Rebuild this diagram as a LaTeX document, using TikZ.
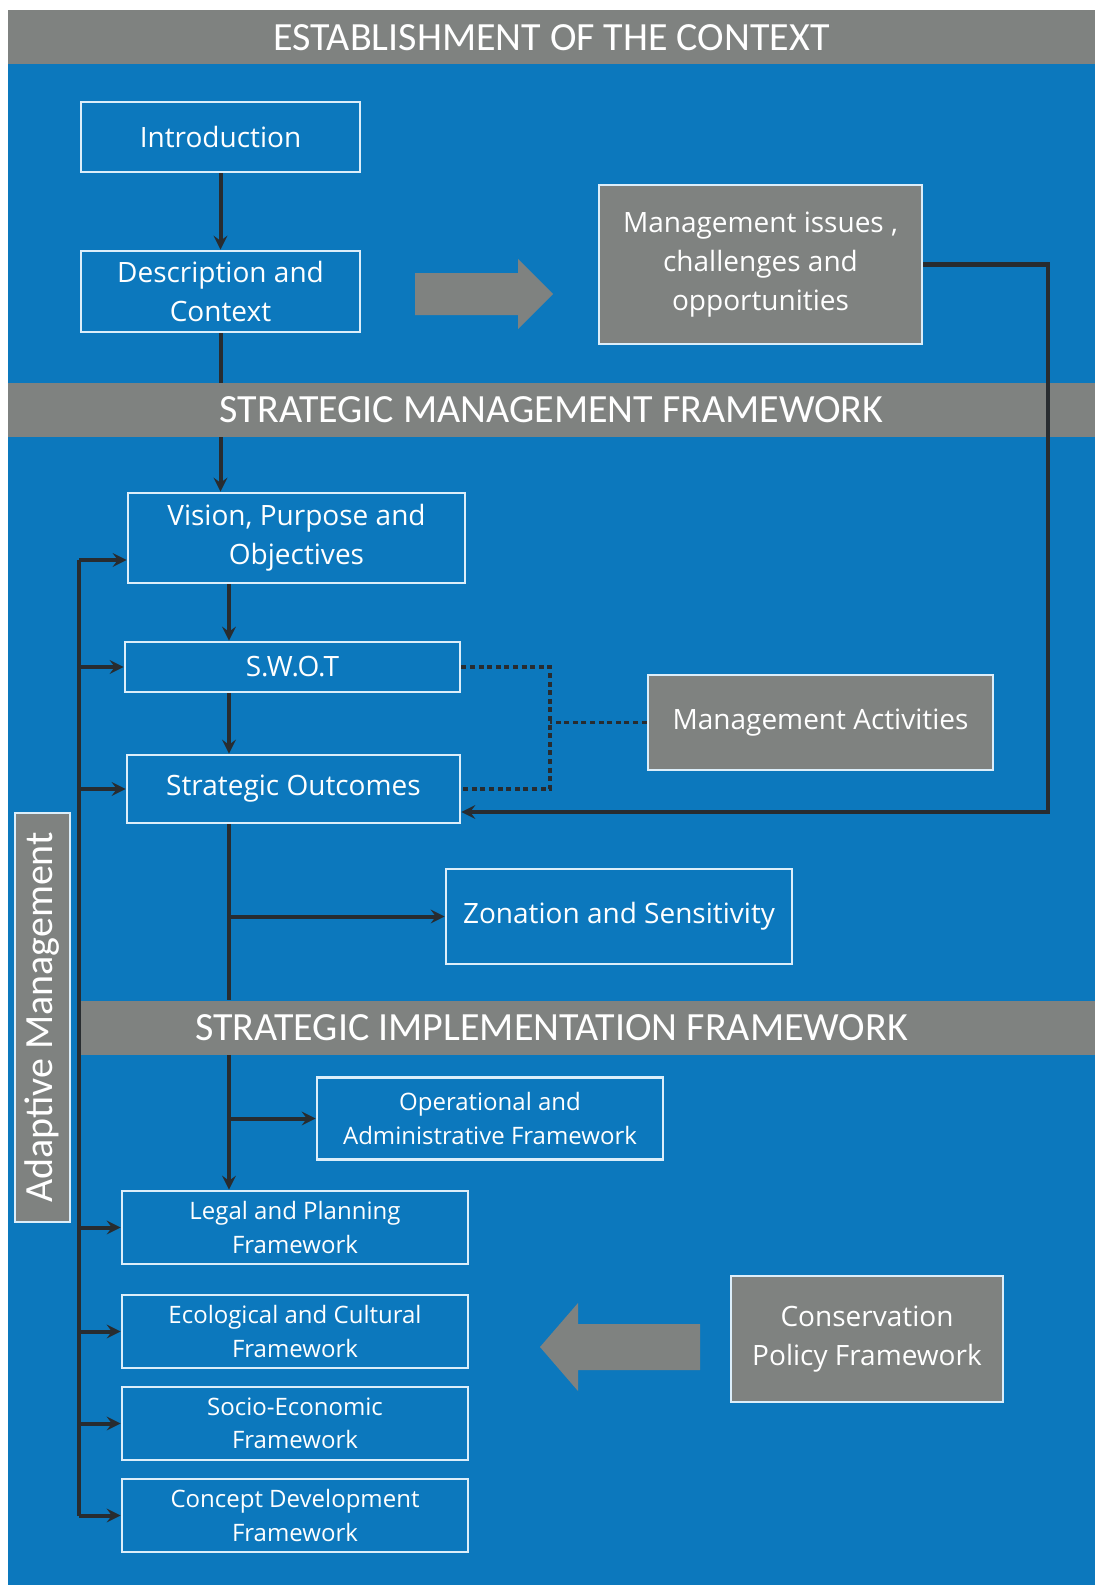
\documentclass[tikz,border=0pt]{standalone}
\usepackage{fontspec}
\setmainfont{Open Sans}
\newfontfamily\headfont{Carlito}
\usepackage{xcolor}
\usepackage{tikz}
\usetikzlibrary{shapes.geometric, arrows}
\definecolor{planblue}{RGB}{12,120,189}
\definecolor{bandgray}{RGB}{127,130,128}
\definecolor{edgewhite}{RGB}{220,238,250}
\definecolor{linedark}{RGB}{40,44,48}
\tikzstyle{band} = [rectangle, fill=bandgray, text=white, font=\headfont\fontsize{20}{24}\selectfont, minimum width=543.5pt, minimum height=27pt, inner sep=0pt]
\tikzstyle{stage} = [rectangle, draw=edgewhite, line width=1.4pt, fill=planblue, text=white, align=center, inner sep=0pt, font=\fontsize{14}{19.3}\selectfont]
\tikzstyle{smallstage} = [stage, font=\fontsize{12}{16.7}\selectfont]
\tikzstyle{greystage} = [stage, fill=bandgray]
\tikzstyle{link} = [line width=2pt, draw=linedark]
\tikzstyle{arrow} = [link, ->, >=stealth]
\tikzstyle{dotlink} = [line width=1.6pt, draw=linedark, dash pattern=on 2.5pt off 1.8pt]

\begin{document}
\begin{tikzpicture}[x=0.5pt, y=-0.5pt]
		
		\useasboundingbox (0,0) rectangle (1095,1589);
		\fill[white] (0,0) rectangle (1095,1589);
		\fill[planblue] (8,10) rectangle (1095,1585);
		
		\node (context) [band] at (551.5,37.5) {ESTABLISHMENT OF THE CONTEXT};
		\node (managefw) [band] at (551.5,410) {STRATEGIC MANAGEMENT FRAMEWORK};
		\node (implementfw) [band] at (551.5,1027.5) {STRATEGIC IMPLEMENTATION FRAMEWORK};
		\fill[planblue] (8,1001) rectangle (78,1055);
		
		\node (intro) [stage, minimum width=139.5pt, minimum height=35pt] at (220.5,137) {Introduction};
		\node (desc) [stage, minimum width=139.5pt, minimum height=40.5pt] at (220.5,291.5) {Description and\\Context};
		\node (issues) [greystage, minimum width=161.5pt, minimum height=79.5pt] at (760.5,264.5) {Management issues ,\\challenges and\\opportunities};
		\node (vision) [stage, minimum width=168.5pt, minimum height=45pt] at (296.5,538) {Vision, Purpose and\\Objectives};
		\node (swot) [stage, minimum width=167.5pt, minimum height=25pt] at (292.5,667) {S.W.O.T};
		\node (outcomes) [stage, minimum width=166.5pt, minimum height=34pt] at (293.5,789) {Strategic Outcomes};
		\node (activities) [greystage, minimum width=172.5pt, minimum height=47.5pt] at (820.5,722.5) {Management Activities};
		\node (zonation) [stage, minimum width=173pt, minimum height=47.5pt] at (619,916.5) {Zonation and Sensitivity};
		\node (oper) [smallstage, minimum width=173pt, minimum height=41pt] at (490,1118.5) {Operational and\\Administrative Framework};
		\node (legal) [smallstage, minimum width=173pt, minimum height=36.5pt] at (295,1227.5) {Legal and Planning\\Framework};
		\node (eco) [smallstage, minimum width=173pt, minimum height=36.5pt] at (295,1331.5) {Ecological and Cultural\\Framework};
		\node (socio) [smallstage, minimum width=173pt, minimum height=36.5pt] at (295,1423.5) {Socio-Economic\\Framework};
		\node (concept) [smallstage, minimum width=173pt, minimum height=36.5pt] at (295,1515.5) {Concept Development\\Framework};
		\node (policy) [greystage, minimum width=136pt, minimum height=63pt] at (867,1339) {Conservation\\Policy Framework};
		\node (adaptive) [greystage, rotate=90, minimum width=204.5pt, minimum height=27.5pt, font=\headfont\fontsize{20}{24}\selectfont] at (42.5,1017.5) {Adaptive Management};
		
		% broad grey arrows
		\fill[bandgray] (415,273) -- (518,273) -- (518,259) -- (553,294) -- (518,329) -- (518,315) -- (415,315) -- cycle;
		\fill[bandgray] (700,1324) -- (578,1324) -- (578,1303) -- (540,1347) -- (578,1391) -- (578,1370) -- (700,1370) -- cycle;
		
		\coordinate (spine) at (229,0);
		\coordinate (rail) at (79,0);
		\coordinate (railtop) at (79,560);
		\coordinate (loop) at (1048,812);
		\coordinate (join) at (550,722.5);
		
		\draw [arrow] (intro) -- (intro |- desc.north);
		\draw [link] (desc.south) -- (desc.south |- managefw.north);
		\draw [arrow] (desc.south |- managefw.south) -- (desc.south |- vision.north);
		\draw [arrow] (vision.south -| spine) -- (swot.north -| spine);
		\draw [arrow] (swot.south -| spine) -- (outcomes.north -| spine);
		\draw [link] (outcomes.south -| spine) -- (implementfw.north -| spine);
		\draw [arrow] (implementfw.south -| spine) -- (legal.north -| spine);
		\draw [arrow] (zonation.west -| spine) -- (zonation.west);
		\draw [arrow] (oper.west -| spine) -- (oper.west);
		\draw [arrow] (issues.east) -| (loop) -- (loop -| outcomes.east);
		
		\draw [dotlink] (swot.east) -| (join) |- (outcomes.east);
		\draw [dotlink] (activities.west) -- (join);
		
		\draw [link] (railtop) -- (rail |- concept.west);
		\draw [arrow] (railtop) -- (railtop -| vision.west);
		\draw [arrow] (rail |- swot.west) -- (swot.west);
		\draw [arrow] (rail |- outcomes.west) -- (outcomes.west);
		\draw [arrow] (rail |- legal.west) -- (legal.west);
		\draw [arrow] (rail |- eco.west) -- (eco.west);
		\draw [arrow] (rail |- socio.west) -- (socio.west);
		\draw [arrow] (rail |- concept.west) -- (concept.west);
		
	\end{tikzpicture}
\end{document}
